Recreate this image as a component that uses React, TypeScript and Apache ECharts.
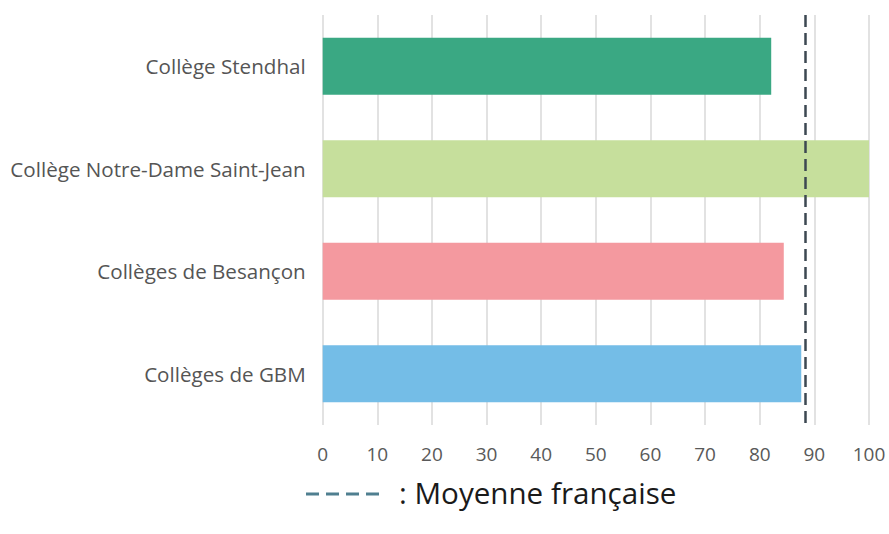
import React, { useEffect, useRef } from "react";
import * as echarts from "echarts";

const categories = [
  "Collège Stendhal",
  "Collège Notre-Dame Saint-Jean",
  "Collèges de Besançon",
  "Collèges de GBM",
];
const values = [82.1, 100, 84.4, 87.6];
const barColors = ["#3aa883", "#c6df9c", "#f4999f", "#74bde7"];
const frenchAverage = 88.3;
const xTicks = [0, 10, 20, 30, 40, 50, 60, 70, 80, 90, 100];
const legendText = ": Moyenne française";

const FONT = "'Open Sans', 'Noto Sans', sans-serif";

export default function App() {
  const ref = useRef<HTMLDivElement>(null);
  useEffect(() => {
    document.body.style.margin = "0";
    if (!ref.current) return;
    const chart = echarts.init(ref.current, undefined, { renderer: "svg" });
    chart.setOption({
      animation: false,
      backgroundColor: "#ffffff",
      grid: { left: 322.7, right: 20, top: 15, bottom: 109, containLabel: false },
      xAxis: {
        type: "value",
        min: xTicks[0],
        max: xTicks[xTicks.length - 1],
        interval: 10,
        axisLine: { show: false },
        axisTick: { show: false },
        splitLine: { show: true, lineStyle: { color: "#d9d9d9", width: 1.5 } },
        axisLabel: {
          color: "#595959",
          fontFamily: FONT,
          fontSize: 19,
          margin: 19,
        },
      },
      yAxis: {
        type: "category",
        inverse: true,
        data: categories,
        axisLine: { show: false },
        axisTick: { show: false },
        splitLine: { show: false },
        axisLabel: {
          color: "#555555",
          fontFamily: FONT,
          fontSize: 20.6,
          margin: 17,
        },
      },
      series: [
        {
          type: "bar",
          data: values.map((v, i) => ({ value: v, itemStyle: { color: barColors[i] } })),
          barWidth: "55.6%",
          markLine: {
            silent: true,
            symbol: ["none", "none"],
            label: { show: false },
            lineStyle: { color: "#3d4852", width: 2.5, type: [12, 6] },
            data: [{ xAxis: frenchAverage }],
          },
        },
      ],
      graphic: [
        {
          type: "line",
          shape: { x1: 306, y1: 494, x2: 386, y2: 494 },
          style: { stroke: "#4f7f90", lineWidth: 3, lineDash: [13, 7] },
        },
        {
          type: "text",
          x: 399,
          y: 492,
          style: {
            text: legendText,
            fill: "#1a1a1a",
            font: `29.6px ${FONT}`,
            textVerticalAlign: "middle",
            verticalAlign: "middle",
          },
        },
      ],
    });
    return () => chart.dispose();
  }, []);
  return <div ref={ref} style={{ width: 889, height: 534 }} />;
}
